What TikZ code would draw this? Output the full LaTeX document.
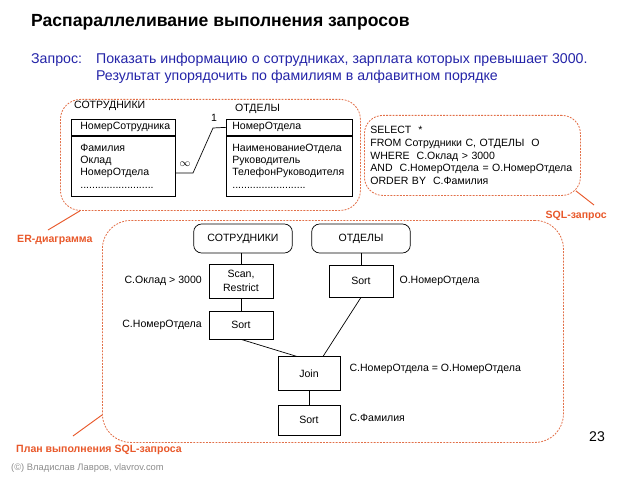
\documentclass[tikz,border=0pt]{standalone}
\usepackage{fontspec}
\setmainfont{Liberation Sans}
\usepackage{tikz}
\usetikzlibrary{positioning, calc}
\definecolor{rot}{HTML}{E8582A}
\definecolor{rahmenrot}{HTML}{E27049}
\definecolor{blau}{HTML}{2424A8}
\definecolor{grau}{HTML}{8C8C8C}
\hyphenpenalty=10000

\begin{document}
\begin{tikzpicture}[x=0.03cm, y=-0.03cm,
    rahmen/.style={draw=rahmenrot, line width=0.7pt, dash pattern=on 1.6pt off 1.1pt, anchor=north west},
    zeiger/.style={draw=rot, line width=0.8pt},
    etikett/.style={rot, font=\fontsize{9}{11}\selectfont\bfseries, inner sep=0pt},
    tabkopf/.style={draw, line width=0.6pt, anchor=north west, minimum height=0.48cm, inner ysep=0pt, align=left, font=\fontsize{9}{10.6}\selectfont},
    tabrumpf/.style={tabkopf, minimum height=1.8cm},
    relation/.style={draw, line width=0.6pt, rounded corners=0.24cm, minimum width=2.96cm, minimum height=0.87cm, font=\fontsize{9}{11}\selectfont},
    op/.style={draw, line width=0.6pt, minimum width=1.92cm, minimum height=0.84cm, align=center, font=\fontsize{9}{12}\selectfont},
    bem/.style={inner sep=0pt, font=\fontsize{9}{11}\selectfont}]
    \useasboundingbox (0,0) rectangle (638,479);
    % Kopf: Titel und Anfrage
    \node[anchor=west, font=\fontsize{15}{18}\selectfont\bfseries] (titel) at (27,22) {Распараллеливание выполнения запросов};
    \node[blau, anchor=west, font=\fontsize{12.1}{14.5}\selectfont] (frage) at (27,60) {Запрос:};
    \node[blau, anchor=west, font=\fontsize{12.1}{14.5}\selectfont] (frage1) at (92,60) {Показать информацию о сотрудниках, зарплата которых превышает 3000.};
    \node[blau, anchor=west, font=\fontsize{12.1}{14.5}\selectfont] (frage2) at (92,77) {Результат упорядочить по фамилиям в алфавитном порядке};

    % ER-Diagramm
    \node[rahmen, rounded corners=0.6cm, minimum width=9cm, minimum height=3.33cm] (er) at (60,99) {};
    \node[anchor=west, font=\fontsize{9}{11}\selectfont] (empname) at (70,106) {СОТРУДНИКИ};
    \node[anchor=west, font=\fontsize{9}{11}\selectfont] (depname) at (231,109) {ОТДЕЛЫ};
    \node[tabkopf, text width=2.58cm, inner xsep=0.27cm] (empkopf) at (71,119) {НомерСотрудника};
    \node[tabrumpf, text width=2.58cm, inner xsep=0.27cm] (emprumpf) at (empkopf.south west)
      {Фамилия\\Оклад\\НомерОтдела\\.........................};
    \node[tabkopf, text width=3.42cm, inner xsep=0.18cm] (depkopf) at (226,119) {НомерОтдела};
    \node[tabrumpf, text width=3.42cm, inner xsep=0.18cm] (deprumpf) at (depkopf.south west)
      {НаименованиеОтдела\\Руководитель\\ТелефонРуководителя\\.........................};
    \draw[line width=0.6pt] (emprumpf.east |- 0,173) -- (193,173) -- (213,128) -- (depkopf.west);
    \node[font=\small] (viele) at (185,164) {$\infty$};
    \node[font=\fontsize{9}{10}\selectfont] (eins) at (214,118) {1};

    % SQL-Anfrage
    \node[rahmen, rounded corners=0.55cm, minimum width=6.48cm, minimum height=2.4cm, text width=6.12cm,
      inner xsep=0.18cm, align=left, font=\fontsize{9}{10.8}\selectfont] (sql) at (364,115)
      {SELECT\ \ *\\FROM Сотрудники С, ОТДЕЛЫ\ \ О\\WHERE\ \ С.Оклад > 3000\\AND\ \ С.НомерОтдела = О.НомерОтдела\\ORDER BY\ \ С.Фамилия};

    % Ausfuehrungsplan
    \node[rahmen, rounded corners=0.85cm, minimum width=13.83cm, minimum height=6.66cm] (plan) at (102,220) {};
    \node[relation] (relemp) at (243,238.5) {СОТРУДНИКИ};
    \node[relation] (reldep) at (361,238.5) {ОТДЕЛЫ};
    \node[op, minimum height=1.02cm] (scan) at (241,281) {Scan,\\Restrict};
    \node[op] (sortemp) at (241,325) {Sort};
    \node[op, minimum height=0.96cm] (sortdep) at (361,281) {Sort};
    \node[op, minimum width=1.86cm, minimum height=1cm] (join) at (309,373.5) {Join};
    \node[op, minimum width=1.86cm, minimum height=0.9cm] (sortres) at (309,420) {Sort};
    \draw[line width=0.6pt] (scan.north) -- (scan.north |- relemp.south);
    \draw[line width=0.6pt] (scan) -- (sortemp);
    \draw[line width=0.6pt] (reldep) -- (sortdep);
    \draw[line width=0.6pt] (sortemp.south) -- ($(join.north)+(-12,0)$);
    \draw[line width=0.6pt] (sortdep.south) -- ($(join.north)+(14,0)$);
    \draw[line width=0.6pt] (join) -- (sortres);
    \node[bem, left=0.2cm of scan] (bedscan) {С.Оклад > 3000};
    \node[bem, left=0.2cm of sortemp] (bedsortemp) {С.НомерОтдела};
    \node[bem, right=0.18cm of sortdep] (bedsortdep) {О.НомерОтдела};
    \node[bem, right=0.27cm of join, yshift=0.13cm] (bedjoin) {С.НомерОтдела = О.НомерОтдела};
    \node[bem, right=0.27cm of sortres, yshift=0.05cm] (bedsortres) {С.Фамилия};

    % Beschriftungen mit Zeigern
    \node[etikett, anchor=west] (erlabel) at (17,240) {ER-диаграмма};
    \node[etikett, anchor=east] (sqllabel) at (607,216) {SQL-запрос};
    \node[etikett, anchor=west] (planlabel) at (16,450) {План выполнения SQL-запроса};
    \coordinate (erfuss) at (48,230);
    \coordinate (sqlfuss) at (594,205);
    \coordinate (planfuss) at (73,436);
    \draw[zeiger] (erfuss) -- (er.south -| 80,0);
    \draw[zeiger] (sqlfuss) -- ($(sql.south east)+(-5,-5)$);
    \draw[zeiger] (planfuss) -- (plan.west |- 0,415);

    % Fuss
    \node[font=\fontsize{12}{14}\selectfont] (seite) at (597,437) {23};
    \node[grau, anchor=west, font=\fontsize{8}{9.5}\selectfont] (copy) at (7,468) {(©) Владислав Лавров, vlavrov.com};
  \end{tikzpicture}
\end{document}
